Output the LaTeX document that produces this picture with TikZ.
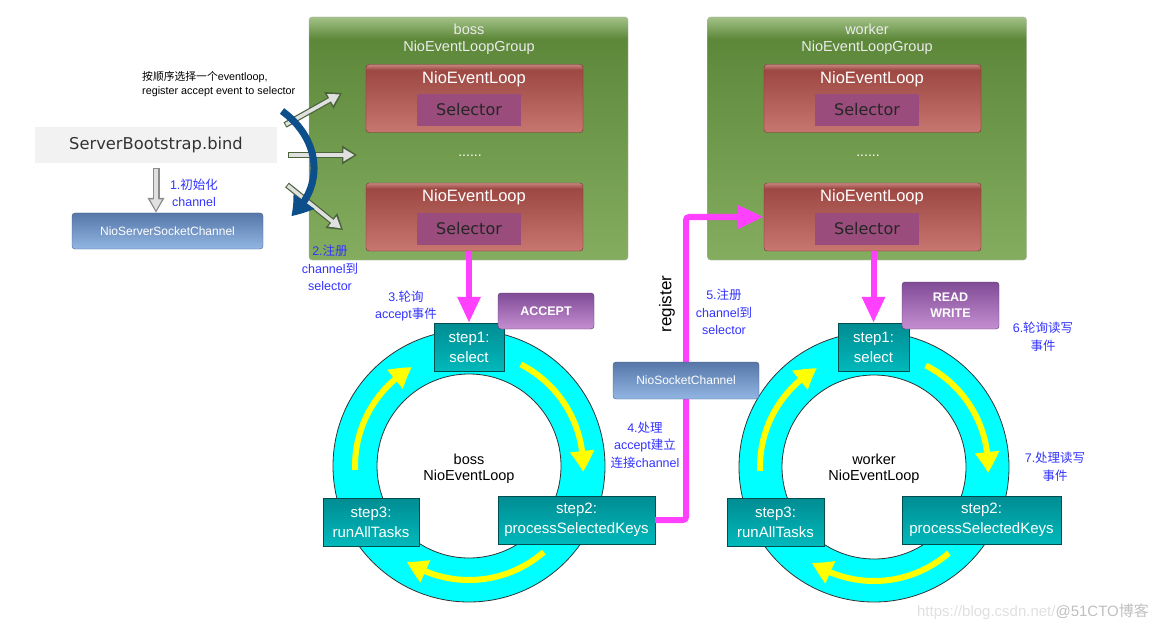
\documentclass[tikz,border=0pt]{standalone}
\usepackage{tikz}
\usepackage{xcolor}
\usepackage{fontspec}
\setmainfont{Liberation Sans}
\newfontfamily\cjkfont{Noto Sans CJK SC}
\newfontfamily\grandefont{DejaVu Sans}
\newcommand{\zh}[1]{{\cjkfont #1}}
\definecolor{groupgreen}{rgb}{0.365,0.533,0.227}
\definecolor{grouplight}{rgb}{0.518,0.678,0.376}
\definecolor{grouptop}{rgb}{0.64,0.76,0.53}
\definecolor{loopred}{rgb}{0.616,0.282,0.259}
\definecolor{looplight}{rgb}{0.784,0.463,0.439}
\definecolor{looptop}{rgb}{0.78,0.52,0.50}
\definecolor{selpurple}{rgb}{0.604,0.302,0.486}
\definecolor{stepteal}{rgb}{0.0,0.549,0.573}
\definecolor{steplight}{rgb}{0.0,0.725,0.733}
\definecolor{tagpurple}{rgb}{0.502,0.298,0.588}
\definecolor{taglight}{rgb}{0.773,0.557,0.824}
\definecolor{chanblue}{rgb}{0.337,0.467,0.659}
\definecolor{chanlight}{rgb}{0.573,0.714,0.894}
\definecolor{pinkline}{rgb}{1,0.251,1}
\definecolor{noteblue}{rgb}{0.2,0.2,1}
\definecolor{spinblue}{rgb}{0.051,0.31,0.545}
\definecolor{fangreen}{rgb}{0.29,0.39,0.23}
\definecolor{ringcyan}{rgb}{0,1,1}
\definecolor{arcyellow}{rgb}{1,1,0}
\usetikzlibrary{arrows.meta,bending,positioning}
\pgfdeclarelayer{background}
\pgfdeclarelayer{foreground}
\pgfsetlayers{background,main,foreground}
\pgfdeclareverticalshading{groupshade}{100bp}{color(0bp)=(grouplight); color(25bp)=(grouplight); color(70.5bp)=(groupgreen); color(75bp)=(grouptop); color(100bp)=(grouptop)}
\pgfdeclareverticalshading{loopshade}{100bp}{color(0bp)=(looplight); color(25bp)=(looplight); color(71bp)=(loopred); color(75bp)=(looptop); color(100bp)=(looptop)}
\tikzset{
	groupbox/.style={rectangle,rounded corners=3pt,draw=black!30,shade,shading=groupshade,minimum width=319,minimum height=243,inner sep=0pt},
	grouptitle/.style={text=white!92!black,font=\fontsize{14.5}{17}\selectfont,align=center,inner sep=0pt},
	loopbox/.style={rectangle,rounded corners=3pt,draw=loopred!70!black,shade,shading=loopshade,minimum width=217,minimum height=68,inner sep=0pt},
	looptitle/.style={text=white,font=\fontsize{16.5}{19}\selectfont,inner sep=0pt},
	selbox/.style={rectangle,fill=selpurple,minimum width=104,minimum height=32,inner sep=0pt,text=black!85,font=\grandefont\fontsize{16}{19}\selectfont},
	dots/.style={text=white,font=\fontsize{14}{16}\selectfont,inner sep=0pt},
	stepbox/.style={rectangle,draw=stepteal!55!black,top color=stepteal,bottom color=steplight,text=white,font=\fontsize{15}{20}\selectfont,align=center,minimum height=48,inner sep=0pt},
	tagbox/.style={rectangle,rounded corners=3pt,draw=tagpurple!70!black,top color=tagpurple,bottom color=taglight,text=white,font=\bfseries\fontsize{12.5}{16}\selectfont,align=center,inner sep=0pt},
	chanbox/.style={rectangle,rounded corners=3pt,draw=chanblue!80!black,top color=chanblue,bottom color=chanlight,text=white,font=\fontsize{12}{14}\selectfont,minimum height=36,inner sep=0pt},
	bindbox/.style={rectangle,fill=black!5,minimum width=242,minimum height=36,inner sep=0pt,text=black!80,font=\grandefont\fontsize{16.3}{19}\selectfont},
	ring/.style={draw=black!80,line width=0.8pt,fill=ringcyan,even odd rule},
	yellowarc/.style={draw=arcyellow,line width=6pt,-{Triangle[width=23pt,length=21pt,bend]}},
	pinkarrow/.style={draw=pinkline,line width=6pt,-{Triangle[width=22pt,length=26pt]}},
	spinarrow/.style={draw=spinblue,line width=7pt,-{Triangle[width=24pt,length=20pt,bend]}},
	fanarrow/.style={draw=fangreen,line width=6pt,-{Triangle[width=18pt,length=15pt]},
		postaction={draw=white!88!black,line width=3.6pt,shorten >=2.6pt,shorten <=1pt,-{Triangle[width=12pt,length=11pt]}}},
	grayarrow/.style={draw=black!45,line width=7pt,shorten <=5pt,-{Triangle[width=16pt,length=15pt]},
		postaction={draw=black!12,line width=4.6pt,shorten >=2.4pt,shorten <=6pt,-{Triangle[width=11pt,length=11pt]}}},
	note/.style={text=noteblue,font=\fontsize{12.5}{17.5}\selectfont,align=center,inner sep=0pt},
}

\begin{document}
\begin{tikzpicture}[x=1pt,y=-1pt]
	\useasboundingbox (0,0) rectangle (1164,631);
	\coordinate[] (bossc) at (469,466);
	\coordinate[] (workc) at (874,467);
	\coordinate[] (turn) at (686,520);
	\coordinate[] (fan1a) at (285,125);
	\coordinate[] (fan1b) at (342,93);
	\coordinate[] (fan2a) at (288,155);
	\coordinate[] (fan2b) at (357,155);
	\coordinate[] (fan3a) at (287,185);
	\coordinate[] (fan3b) at (343,230);
	\coordinate[] (spin1) at (282,111);
	\coordinate[] (spin2) at (291,216);
	
	% groups
	\node (bgroup) at (468.5,138.5)[groupbox]{};
	\node (wgroup) at (867,138.5)[groupbox]{};
	\node (bgroupt) at (469,39.5)[grouptitle]{boss\\NioEventLoopGroup};
	\node (wgroupt) at (867,39.5)[grouptitle]{worker\\NioEventLoopGroup};
	
	\node (bloop1) at (474.5,98.5)[loopbox]{};
	\node (bloop2) at (474.5,217)[loopbox]{};
	\node (wloop1) at (872.5,98.5)[loopbox]{};
	\node (wloop2) at (872.5,217)[loopbox]{};
	\node (bloop1t) at (474,79)[looptitle]{NioEventLoop};
	\node (bloop2t) at (474,197)[looptitle]{NioEventLoop};
	\node (wloop1t) at (872,79)[looptitle]{NioEventLoop};
	\node (wloop2t) at (872,197)[looptitle]{NioEventLoop};
	\node (bsel1) at (469,110)[selbox]{Selector};
	\node (bsel2) at (469,229)[selbox]{Selector};
	\node (wsel1) at (867,110)[selbox]{Selector};
	\node (wsel2) at (867,229)[selbox]{Selector};
	\node (bdots) at (470,156)[dots]{......};
	\node (wdots) at (868,156)[dots]{......};
	
	% bind side
	\node (bind) at (156,145)[bindbox]{ServerBootstrap.bind};
	\node (nssc) at (167.5,231)[chanbox,minimum width=191]{NioServerSocketChannel};
	\draw[grayarrow] (bind.south) -- (bind.south |- nssc.north);
	\node (notesel) at (142,84)[anchor=west,align=left,inner sep=0pt,font=\fontsize{10.8}{14}\selectfont]{\zh{按顺序选择一个}eventloop,\\register accept event to selector};
	\draw[fanarrow] (fan1a) -- (fan1b);
	\draw[fanarrow] (fan2a) -- (fan2b);
	\draw[fanarrow] (fan3a) -- (fan3b);
	\draw[spinarrow] (spin1) .. controls (322,140) and (324,188) .. (spin2);
	
	% rings
	\draw[ring] (bossc) circle[radius=136] (bossc) circle[radius=92];
	\draw[ring] (workc) circle[radius=135] (workc) circle[radius=92];
	\draw[yellowarc] ([shift={(-63:114)}]bossc) arc[start angle=-63,end angle=3,radius=114];
	\draw[yellowarc] ([shift={(49:114)}]bossc) arc[start angle=49,end angle=123,radius=114];
	\draw[yellowarc] ([shift={(-182:114)}]bossc) arc[start angle=-182,end angle=-120,radius=114];
	\draw[yellowarc] ([shift={(-63:114)}]workc) arc[start angle=-63,end angle=3,radius=114];
	\draw[yellowarc] ([shift={(49:114)}]workc) arc[start angle=49,end angle=123,radius=114];
	\draw[yellowarc] ([shift={(-182:114)}]workc) arc[start angle=-182,end angle=-120,radius=114];
	\node (bossl) at (469,469)[align=center,inner sep=0pt,font=\fontsize{14.5}{16}\selectfont]{boss\\NioEventLoop};
	\node (workl) at (874,469)[align=center,inner sep=0pt,font=\fontsize{14.5}{16}\selectfont]{worker\\NioEventLoop};
	
	\node (bstep1) at (469,347)[stepbox,minimum width=70]{step1:\\select};
	\node (bstep2) at (576.5,520)[stepbox,minimum width=157]{step2:\\processSelectedKeys};
	\node (bstep3) at (371,522)[stepbox,minimum width=96]{step3:\\runAllTasks};
	\node (wstep1) at (873.5,347)[stepbox,minimum width=71]{step1:\\select};
	\node (wstep2) at (981.5,520)[stepbox,minimum width=159]{step2:\\processSelectedKeys};
	\node (wstep3) at (775.5,522)[stepbox,minimum width=97]{step3:\\runAllTasks};
	\node (accept) at (546,311)[tagbox,minimum width=96,minimum height=36]{ACCEPT};
	\node (rdwr) at (950.5,305.5)[tagbox,minimum width=97,minimum height=47]{READ\\WRITE};
	
	% register path
	\draw[pinkarrow] (bloop2.south -| bstep1) -- (bstep1.north);
	\draw[pinkarrow] (wloop2.south -| wstep1) -- (wstep1.north);
	\draw[pinkarrow,rounded corners=3pt] (bstep2.east) -- (turn) |- (wloop2.west);
	\node (nsc) at (686,380.5)[chanbox,minimum width=146,minimum height=37]{NioSocketChannel};
	\node (regtext) at (667,304)[rotate=90,inner sep=0pt,font=\fontsize{17}{19}\selectfont]{register};
	
	\node (noteinit) at (194,193)[note]{1.\zh{初始化}\\channel};
	\node (notereg) at (330,268)[note]{2.\zh{注册}\\channel\zh{到}\\selector};
	\node (notepoll) at (406,306)[note]{3.\zh{轮询}\\accept\zh{事件}};
	\node (notehandle) at (645,445)[note]{4.\zh{处理}\\accept\zh{建立}\\\zh{连接}channel};
	\node (noteregw) at (724,312)[note]{5.\zh{注册}\\channel\zh{到}\\selector};
	\node (notepollw) at (1043,337)[note]{6.\zh{轮询读写}\\\zh{事件}};
	\node (notehandlew) at (1055,467)[note]{7.\zh{处理读写}\\\zh{事件}};
	\node (mark) at (1033,612)[inner sep=0pt,font=\fontsize{15}{17}\selectfont,text=black!12]{https://blog.csdn.net/\textcolor{black!25}{@51CTO\zh{博客}}};
	%\draw[->,>=latex,pinkline](bstep2.east)--(nsc.south);
\end{tikzpicture}
\end{document}
